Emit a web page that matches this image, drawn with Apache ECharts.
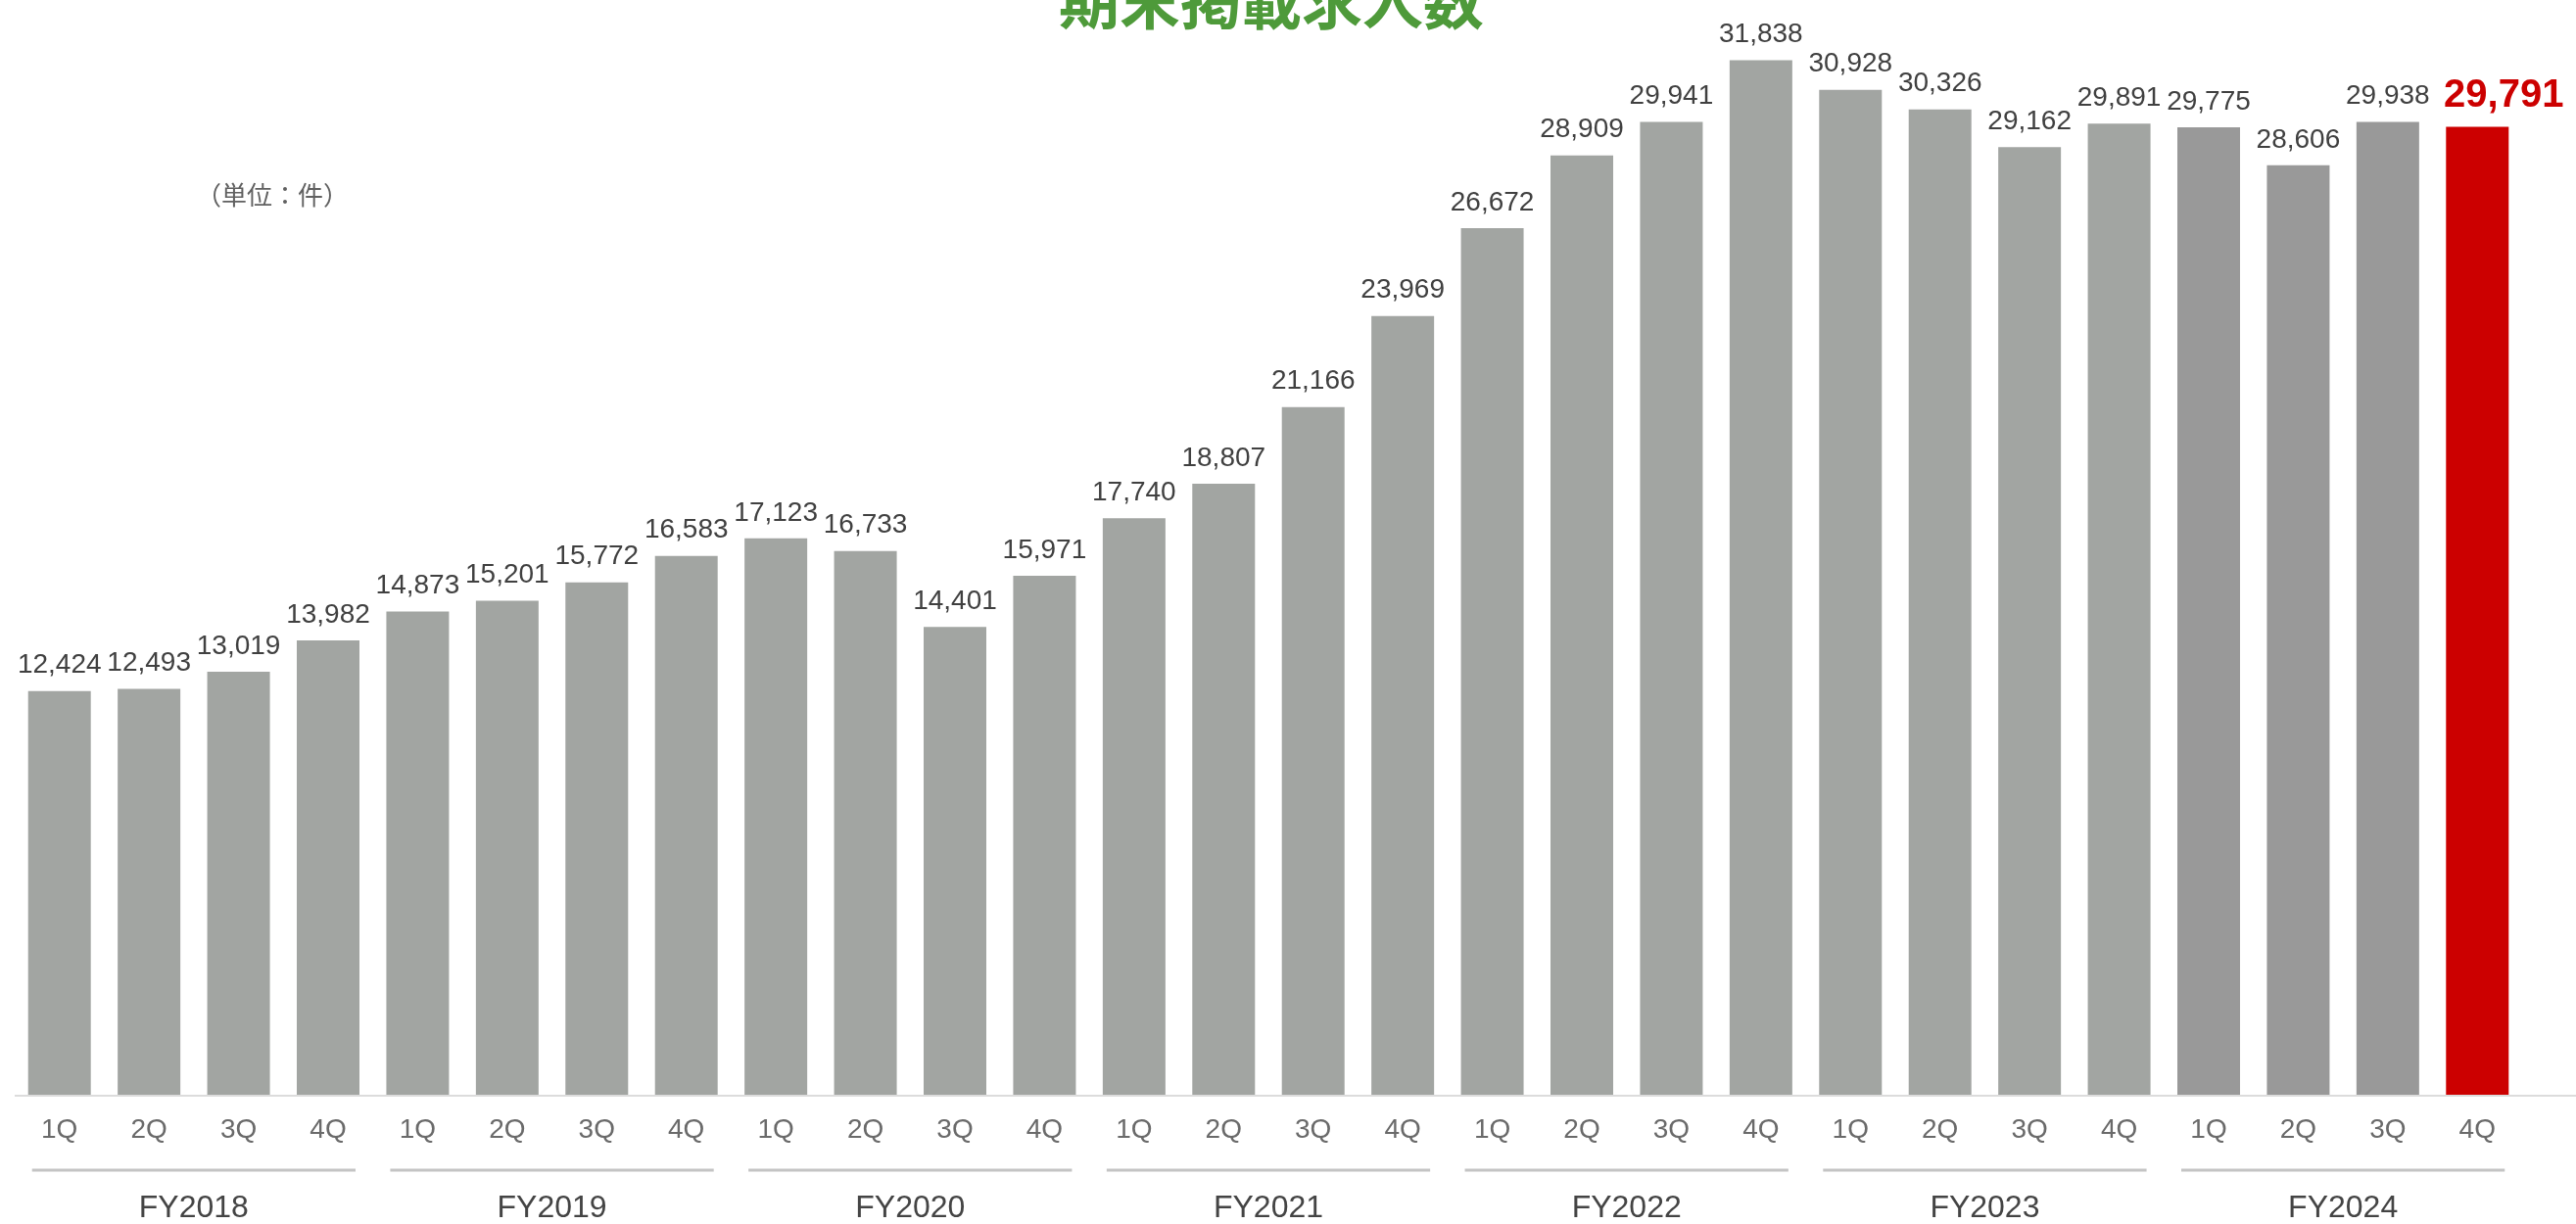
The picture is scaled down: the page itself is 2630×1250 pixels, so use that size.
<!DOCTYPE html>
<html>
<head>
<meta charset="utf-8">
<script src="https://cdn.jsdelivr.net/npm/echarts@6/dist/echarts.min.js"></script>
<style>
html,body{margin:0;padding:0;background:#fff;}
#chart{width:2630px;height:1250px;}
</style>
</head>
<body>
<div id="chart"></div>
<script>
const titleText = '期末掲載求人数';
const unitText = '（単位：件）';
const years = ['FY2018','FY2019','FY2020','FY2021','FY2022','FY2023','FY2024'];
const quarters = ['1Q','2Q','3Q','4Q'];
const values = [12424,12493,13019,13982,14873,15201,15772,16583,17123,16733,14401,15971,17740,18807,21166,23969,26672,28909,29941,31838,30928,30326,29162,29891,29775,28606,29938,29791];

const categories = [];
years.forEach(y => quarters.forEach(q => categories.push(y + ' ' + q)));

const fmt = v => String(v).replace(/\B(?=(\d{3})+(?!\d))/g, ',');
const lastIdx = values.length - 1;
const barData = values.map((v, i) => {
  const yr = Math.floor(i / 4);
  if (i === lastIdx) {
    return {
      value: v,
      itemStyle: {color: '#cc0000'},
      label: {fontSize: 40, fontWeight: 'bold', color: '#cc0000', offset: [27, 0], distance: 12}
    };
  }
  return {value: v, itemStyle: {color: yr === years.length - 1 ? '#999999' : '#a2a5a2'}};
});

const chart = echarts.init(document.getElementById('chart'));
const option = {
  backgroundColor: '#ffffff',
  animation: false,
  title: {
    text: titleText,
    left: 1081,
    top: -30,
    padding: 0,
    textStyle: {fontSize: 62, fontWeight: 'bold', color: '#4e9a3a', fontFamily: '"Noto Sans CJK JP"'}
  },
  grid: {left: 15, right: 55, top: 23, bottom: 130, containLabel: false},
  xAxis: [{
    type: 'category',
    data: categories,
    position: 'bottom',
    axisLine: {show: false},
    axisTick: {show: false},
    axisLabel: {
      interval: 0, margin: 22, fontSize: 28, color: '#6a6a6a',
      fontFamily: '"Liberation Sans", Arial, sans-serif',
      formatter: v => v.split(' ')[1]
    }
  }, {
    type: 'category',
    data: years,
    position: 'bottom',
    offset: 90,
    axisLine: {show: false},
    axisTick: {show: false},
    axisLabel: {interval: 0, margin: 10, fontSize: 32, color: '#444444', fontFamily: '"Liberation Sans", Arial, sans-serif'}
  }],
  yAxis: {type: 'value', min: 0, max: 33000, show: false},
  series: [{
    type: 'bar',
    xAxisIndex: 0,
    data: barData,
    barCategoryGap: '30%',
    label: {
      show: true, position: 'top', distance: 12,
      fontSize: 28, color: '#404040',
      fontFamily: '"Liberation Sans", Arial, sans-serif',
      formatter: p => fmt(p.value)
    }
  }]
};
chart.setOption(option);

// decorative lines positioned through the chart's own scales
const baseY = chart.convertToPixel({yAxisIndex: 0}, 0);
const gx0 = chart.convertToPixel({xAxisIndex: 0}, 0);
const pitch = chart.convertToPixel({xAxisIndex: 0}, 1) - gx0;
const graphics = [{
  type: 'line',
  shape: {x1: gx0 - pitch / 2, y1: baseY + 1, x2: 2630, y2: baseY + 1},
  style: {stroke: '#dcdcdc', lineWidth: 2},
  z: 0
}, {
  type: 'text',
  left: 200, top: 186,
  style: {text: unitText, fontSize: 26, fill: '#606060', fontFamily: '"Noto Sans CJK JP"'}
}];
years.forEach((y, g) => {
  const a = chart.convertToPixel({xAxisIndex: 0}, g * 4);
  const b = chart.convertToPixel({xAxisIndex: 0}, g * 4 + 3);
  graphics.push({
    type: 'line',
    shape: {x1: a - 28, y1: baseY + 77, x2: b + 28, y2: baseY + 77},
    style: {stroke: '#c4c4c4', lineWidth: 3}
  });
});
chart.setOption({graphic: graphics});
</script>
</body>
</html>
